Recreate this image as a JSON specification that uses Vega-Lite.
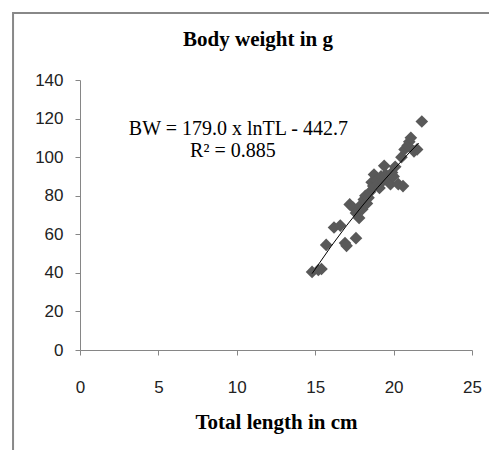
{
  "$schema": "https://vega.github.io/schema/vega-lite/v6.json",
  "width": 392,
  "height": 270,
  "autosize": {"type": "none"},
  "padding": {"left": 80, "top": 80, "right": 17, "bottom": 100},
  "background": "white",
  "title": {"text": "Body weight in g", "font": "Liberation Serif", "fontSize": 21, "fontWeight": "bold", "color": "#000000", "anchor": "middle", "frame": "group", "dx": -18, "offset": -38},
  "config": {
    "view": {"stroke": null},
    "axis": {"grid": false, "domainColor": "#868686", "tickColor": "#868686", "tickSize": 5, "labelFont": "Liberation Sans", "labelFontSize": 17, "labelColor": "#222222", "labelOverlap": false, "labelFlush": false, "titleFont": "Liberation Serif", "titleFontSize": 21, "titleFontWeight": "bold", "titleColor": "#000000"}
  },
  "datasets": {
    "fish": [
      {"TL": 14.8, "BW": 40.5}, {"TL": 15.2, "BW": 41.5}, {"TL": 15.4, "BW": 42}, {"TL": 15.7, "BW": 54.5},
      {"TL": 16.2, "BW": 63.5}, {"TL": 16.6, "BW": 64.5}, {"TL": 16.9, "BW": 55.5}, {"TL": 17.0, "BW": 54},
      {"TL": 17.6, "BW": 58}, {"TL": 17.2, "BW": 75.5}, {"TL": 17.4, "BW": 74}, {"TL": 17.6, "BW": 71},
      {"TL": 17.8, "BW": 68.5}, {"TL": 17.9, "BW": 75}, {"TL": 18.0, "BW": 73}, {"TL": 18.1, "BW": 78},
      {"TL": 18.2, "BW": 80}, {"TL": 18.3, "BW": 76}, {"TL": 18.4, "BW": 79}, {"TL": 18.5, "BW": 82},
      {"TL": 18.6, "BW": 87}, {"TL": 18.7, "BW": 85}, {"TL": 18.75, "BW": 91}, {"TL": 18.9, "BW": 88},
      {"TL": 19.0, "BW": 86}, {"TL": 19.1, "BW": 84}, {"TL": 19.2, "BW": 90}, {"TL": 19.3, "BW": 87.5},
      {"TL": 19.4, "BW": 95.5}, {"TL": 19.5, "BW": 91}, {"TL": 19.6, "BW": 88}, {"TL": 19.8, "BW": 86},
      {"TL": 19.9, "BW": 92}, {"TL": 20.0, "BW": 90}, {"TL": 20.1, "BW": 95}, {"TL": 20.3, "BW": 86},
      {"TL": 20.6, "BW": 85}, {"TL": 20.5, "BW": 100}, {"TL": 20.7, "BW": 104}, {"TL": 20.9, "BW": 106},
      {"TL": 21.0, "BW": 108}, {"TL": 21.1, "BW": 110}, {"TL": 21.3, "BW": 103}, {"TL": 21.5, "BW": 104},
      {"TL": 21.8, "BW": 118.5}
    ],
    "trend": [
      {"TL": 14.8, "BW": 39.6}, {"TL": 16, "BW": 53.6}, {"TL": 17, "BW": 64.5}, {"TL": 18, "BW": 74.7},
      {"TL": 19, "BW": 84.4}, {"TL": 20, "BW": 93.5}, {"TL": 21, "BW": 102.3}, {"TL": 21.6, "BW": 107.3}
    ]
  },
  "layer": [
    {
      "data": {"name": "fish"},
      "mark": {"type": "point", "shape": "diamond", "filled": true, "size": 160, "color": "#595959", "opacity": 1},
      "encoding": {
        "x": {"field": "TL", "type": "quantitative", "scale": {"domain": [0, 25], "nice": false}, "axis": {"values": [0, 5, 10, 15, 20, 25], "title": "Total length in cm", "labelPadding": 24, "titlePadding": 16}},
        "y": {"field": "BW", "type": "quantitative", "scale": {"domain": [0, 140], "nice": false}, "axis": {"values": [0, 20, 40, 60, 80, 100, 120, 140], "title": null, "labelPadding": 12}}
      }
    },
    {
      "data": {"values": [{}]},
      "mark": {"type": "rect", "fill": null, "stroke": "#888888", "strokeWidth": 2, "clip": false},
      "encoding": {
        "x": {"datum": -4.27, "type": "quantitative", "axis": {"values": [0, 5, 10, 15, 20, 25], "title": "Total length in cm", "labelPadding": 24, "titlePadding": 16}},
        "x2": {"datum": 40},
        "y": {"datum": 174.7, "type": "quantitative", "axis": {"values": [0, 20, 40, 60, 80, 100, 120, 140], "title": null, "labelPadding": 12}},
        "y2": {"datum": -80}
      }
    },
    {
      "data": {"name": "trend"},
      "mark": {"type": "line", "color": "#000000", "strokeWidth": 1},
      "encoding": {
        "x": {"field": "TL", "type": "quantitative", "axis": {"values": [0, 5, 10, 15, 20, 25], "title": "Total length in cm", "labelPadding": 24, "titlePadding": 16}},
        "y": {"field": "BW", "type": "quantitative", "axis": {"values": [0, 20, 40, 60, 80, 100, 120, 140], "title": null, "labelPadding": 12}}
      }
    },
    {
      "data": {"values": [{}]},
      "mark": {"type": "text", "text": "BW = 179.0 x lnTL - 442.7", "font": "Liberation Serif", "fontSize": 20, "color": "#000000", "align": "center", "baseline": "alphabetic"},
      "encoding": {
        "x": {"datum": 10.1, "type": "quantitative", "axis": {"values": [0, 5, 10, 15, 20, 25], "title": "Total length in cm", "labelPadding": 24, "titlePadding": 16}},
        "y": {"datum": 111.5, "type": "quantitative", "axis": {"values": [0, 20, 40, 60, 80, 100, 120, 140], "title": null, "labelPadding": 12}}
      }
    },
    {
      "data": {"values": [{}]},
      "mark": {"type": "text", "text": "R² = 0.885", "font": "Liberation Serif", "fontSize": 20, "color": "#000000", "align": "center", "baseline": "alphabetic"},
      "encoding": {
        "x": {"datum": 9.75, "type": "quantitative", "axis": {"values": [0, 5, 10, 15, 20, 25], "title": "Total length in cm", "labelPadding": 24, "titlePadding": 16}},
        "y": {"datum": 100, "type": "quantitative", "axis": {"values": [0, 20, 40, 60, 80, 100, 120, 140], "title": null, "labelPadding": 12}}
      }
    }
  ]
}
